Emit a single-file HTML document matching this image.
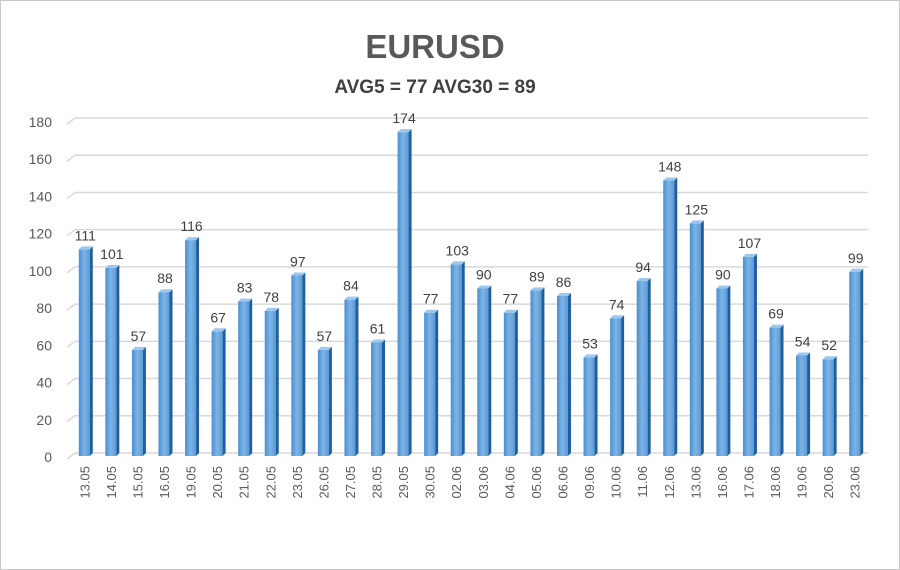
<!DOCTYPE html>
<html><head><meta charset="utf-8"><style>
body{margin:0;background:#fff;font-family:"Liberation Sans",sans-serif}
svg{display:block}
</style></head><body>
<svg width="900" height="570">
<defs><linearGradient id="g" x1="0" x2="1"><stop offset="0" stop-color="#4a8fd0"/><stop offset="0.5" stop-color="#7db4e6"/><stop offset="1" stop-color="#5a9ad8"/></linearGradient></defs>
<rect x="0.5" y="0.5" width="899" height="569" fill="#fff" stroke="#c8c8c8"/>
<text x="435" y="58" text-anchor="middle" font-size="33" font-weight="bold" fill="#595959">EURUSD</text>
<text x="435" y="93" text-anchor="middle" font-size="19" font-weight="bold" fill="#404040">AVG5 = 77 AVG30 = 89</text>
<g id="grid"></g><g id="bars"></g>
</svg>
<script>
const categories=["13.05","14.05","15.05","16.05","19.05","20.05","21.05","22.05","23.05","26.05","27.05","28.05","29.05","30.05","02.06","03.06","04.06","05.06","06.06","09.06","10.06","11.06","12.06","13.06","16.06","17.06","18.06","19.06","20.06","23.06"];
const values=[111,101,57,88,116,67,83,78,97,57,84,61,174,77,103,90,77,89,86,53,74,94,148,125,90,107,69,54,52,99];
const ticks=[0,20,40,60,80,100,120,140,160,180];
const NS="http://www.w3.org/2000/svg";
const y0=456,y1=121,yMax=180;
const y=v=>y0-(v/yMax)*(y0-y1);
const n=categories.length,xL=71,xR=868;
const step=(xR-xL)/n;
const x=i=>xL+step*(i+0.5);
const grid=document.getElementById('grid'),bars=document.getElementById('bars');
function mk(t,a,p){const e=document.createElementNS(NS,t);for(const k in a)e.setAttribute(k,a[k]);p.appendChild(e);return e;}
ticks.forEach(t=>{
 const l=mk('path',{d:`M${xL-4} ${y(t)+3} L${xL+4} ${y(t)-3} L${xR} ${y(t)-3}`,stroke:'#d9d9d9','stroke-width':1.5,fill:'none'},grid);
 
 
 const tx=mk('text',{x:52,y:y(t)+6,'text-anchor':'end','font-size':14,fill:'#595959'},grid);
 tx.textContent=t;
 
 
});
values.forEach((v,i)=>{
 const cx=x(i),w=11,d=3,top=y(v),bx=cx-w/2;
 const g=mk('g',{},bars);
 
 
 mk('rect',{x:bx,y:top,width:w,height:y0-top,fill:'url(#g)'},g);
 mk('path',{d:`M${bx+w} ${top} L${bx+w+d} ${top-3} L${bx+w+d} ${y0-3} L${bx+w} ${y0}Z`,fill:'#1f5f9e'},g);
 mk('path',{d:`M${bx} ${top} L${bx+d} ${top-3} L${bx+w+d} ${top-3} L${bx+w} ${top}Z`,fill:'#9cc8ef'},g);
 const lb=mk('text',{x:cx+1,y:top-9,'text-anchor':'middle','font-size':14,fill:'#404040'},bars);
 lb.textContent=v;
 
 
 const cl=mk('text',{x:0,y:0,'text-anchor':'end','font-size':13,fill:'#595959',transform:`translate(${cx+5},466) rotate(-90)`},bars);
 cl.textContent=categories[i];
 
 
});
</script>
</body></html>
